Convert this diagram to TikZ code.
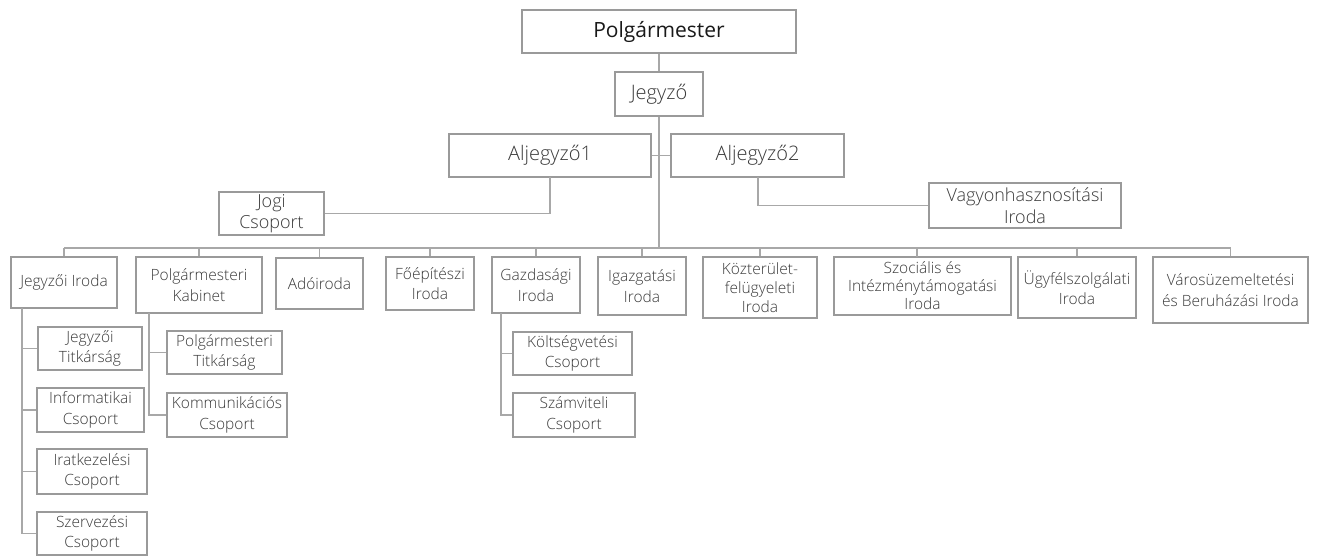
\documentclass[tikz,border=0pt]{standalone}
\usepackage{fontspec}
\setmainfont{Open Sans}
\IfFontExistsTF{Open Sans Light}{\newfontfamily\lightfont{Open Sans Light}}{\newcommand\lightfont{\relax}}
\definecolor{boxline}{HTML}{9A9A9A}
\definecolor{conn}{HTML}{A8A8A8}
\definecolor{txt}{HTML}{3A3A3A}
\begin{document}
\begin{tikzpicture}[x=1pt,y=-1pt,
  box/.style={draw=boxline, line width=1.1pt, inner sep=0pt, align=center, text=txt, fill=white},
  top/.style={box, font=\lightfont\fontsize{20}{24}\selectfont},
  mid/.style={box, font=\lightfont\fontsize{18}{22}\selectfont},
  low/.style={box, font=\lightfont\fontsize{15.5}{20.5}\selectfont},
  wire/.style={draw=conn, line width=1.1pt}]
\useasboundingbox[fill=white] (0,0) rectangle (1319,556);
% top
\node[top, text=black!90, font=\fontsize{21}{25}\selectfont, minimum width=274pt, minimum height=43pt] (P) at (659,31.5) {Polgármester};
\node[top, minimum width=88pt, minimum height=44pt] (J) at (659,94) {Jegyző};
\node[top, minimum width=202pt, minimum height=43pt] (A1) at (550,155.5) {Aljegyző1};
\node[top, minimum width=173pt, minimum height=43pt] (A2) at (757.5,155.5) {Aljegyző2};
\node[mid, minimum width=105pt, minimum height=43pt, font=\lightfont\fontsize{18}{21}\selectfont] (Jogi) at (271.5,213.5) {Jogi\\Csoport};
\node[mid, minimum width=192pt, minimum height=45pt, font=\lightfont\fontsize{18}{21.5}\selectfont] (V) at (1025,205.5) {Vagyonhasznosítási\\Iroda};
% offices
\node[low, minimum width=106pt, minimum height=51pt] (JI) at (64,282.5) {Jegyzői Iroda};
\node[low, minimum width=126pt, minimum height=56pt] (PK) at (199,285) {Polgármesteri\\Kabinet};
\node[low, minimum width=87pt, minimum height=51pt] (AD) at (319.5,283.5) {Adóiroda};
\node[low, minimum width=88pt, minimum height=53pt] (FE) at (430,283.5) {Főépítészi\\Iroda};
\node[low, minimum width=88pt, minimum height=56pt] (GA) at (536,285) {Gazdasági\\Iroda};
\node[low, minimum width=88pt, minimum height=58pt] (IG) at (642,286) {Igazgatási\\Iroda};
\node[low, minimum width=114pt, minimum height=61pt, font=\lightfont\fontsize{15.5}{19}\selectfont] (KO) at (760,287.5) {Közterület-\\felügyeleti\\Iroda};
\node[low, minimum width=177pt, minimum height=58pt, font=\lightfont\fontsize{15.5}{18}\selectfont] (SZ) at (922.5,286) {Szociális és\\Intézménytámogatási\\Iroda};
\node[low, minimum width=118pt, minimum height=61pt] (UG) at (1077,287.5) {Ügyfélszolgálati\\Iroda};
\node[low, minimum width=155pt, minimum height=66pt] (VA) at (1230.5,290) {Városüzemeltetési\\és Beruházási Iroda};
% groups
\node[low, minimum width=104pt, minimum height=43pt] (JT) at (90,348.5) {Jegyzői\\Titkárság};
\node[low, minimum width=107pt, minimum height=44pt] (IN) at (90.5,410) {Informatikai\\Csoport};
\node[low, minimum width=110pt, minimum height=45pt] (IR) at (92,471.5) {Iratkezelési\\Csoport};
\node[low, minimum width=110pt, minimum height=43pt] (SV) at (92,533.5) {Szervezési\\Csoport};
\node[low, minimum width=115pt, minimum height=43pt] (PT) at (224.5,352.5) {Polgármesteri\\Titkárság};
\node[low, minimum width=120pt, minimum height=44pt] (KM) at (227,415) {Kommunikációs\\Csoport};
\node[low, minimum width=119pt, minimum height=43pt] (KT) at (572.5,353.5) {Költségvetési\\Csoport};
\node[low, minimum width=122pt, minimum height=44pt] (SM) at (574,415) {Számviteli\\Csoport};
% connectors
\coordinate (busL) at (64,248);
\coordinate (busR) at (1231,248);
\coordinate (trunk) at (659,248);
\coordinate (jiv) at (22,308);
\coordinate (pkv) at (149,313);
\coordinate (gav) at (501,313);
\coordinate (a1d) at (550,177);
\coordinate (a2d) at (758,177);
\coordinate (szd) at (917,257);
\draw[wire] (P.south) -- (J.north);
\draw[wire] (J.south) -- (trunk);
\draw[wire] (A1.east) -- (A2.west);
\draw[wire] (busL) -- (busR);
\draw[wire] (a1d) |- (Jogi.east);
\draw[wire] (a2d) |- (V.west);
\foreach \n in {JI,PK,AD,FE,GA,IG,KO,UG,VA} \draw[wire] (\n.north) -- (\n.north |- busL);
\draw[wire] (szd) -- (szd |- busL);
\draw[wire] (jiv) |- (JT.west);
\draw[wire] (jiv) |- (IN.west);
\draw[wire] (jiv) |- (IR.west);
\draw[wire] (jiv) |- (SV.west);
\draw[wire] (pkv) |- (PT.west);
\draw[wire] (pkv) |- (KM.west);
\draw[wire] (gav) |- (KT.west);
\draw[wire] (gav) |- (SM.west);
\end{tikzpicture}
\end{document}
